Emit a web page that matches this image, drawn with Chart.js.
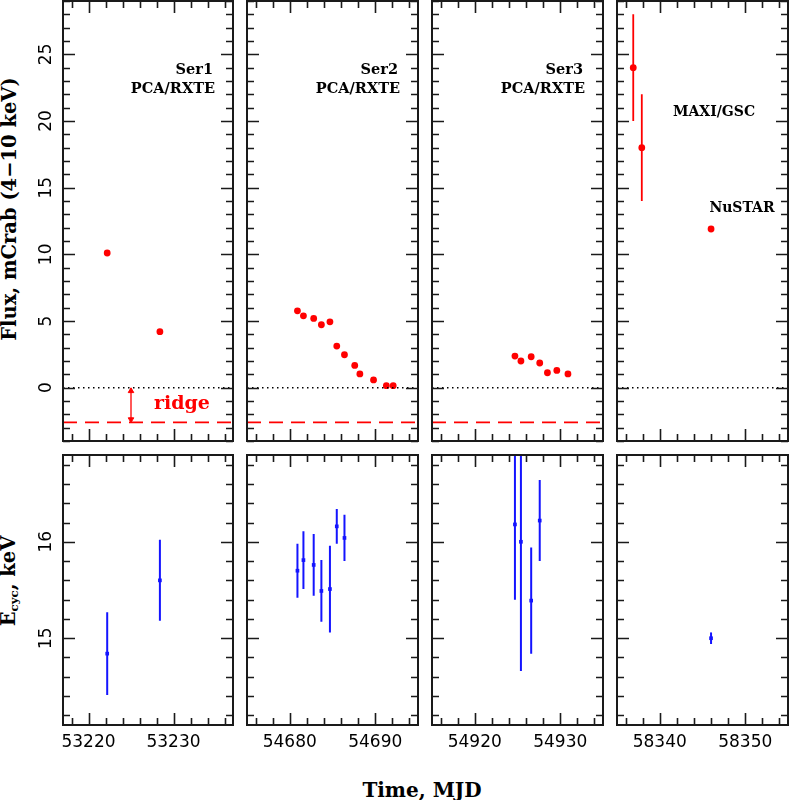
<!DOCTYPE html>
<html>
<head>
<meta charset="utf-8">
<script src="https://cdn.jsdelivr.net/npm/chart.js@4.4.1/dist/chart.umd.min.js"></script>
<style>
  html, body { margin: 0; padding: 0; background: #fff; }
  #wrap { position: relative; width: 789px; height: 800px; overflow: hidden; }
  #wrap canvas { position: absolute; left: 0; top: 0; }
  .title { position: absolute; font-family: "DejaVu Serif", serif; font-weight: bold; color: #000; white-space: nowrap; line-height: 1; }
  .rot { transform: translate(-50%, -50%) rotate(-90deg); }
  .mid { transform: translate(-50%, -50%); }
  .title sub { font-size: 60%; vertical-align: -0.25em; }
</style>
</head>
<body>
<div id="wrap">
  <div class="title rot" style="left:10px; top:209px; font-size:19.5px;">Flux, mCrab (4&#8722;10 keV)</div>
  <div class="title rot" style="left:10px; top:581px; font-size:19.5px;">E<sub>cyc</sub>, keV</div>
  <div class="title mid" style="left:422px; top:790px; font-size:20px;">Time, MJD</div>
</div>
<script>
// Time windows (MJD) of the four columns and the axis limits
const xRanges = [[53217, 53237], [54675, 54695], [54915, 54935], [58335, 58355]];
const fluxRange = [-4, 29];
const ecycRange = [14.1, 16.9];

// Tick labels
const xTickLabels = [[53220, 53230], [54680, 54690], [54920, 54930], [58340, 58350]];
const fluxTickLabels = [0, 5, 10, 15, 20, 25];
const ecycTickLabels = [15, 16];

// Ser1, PCA/RXTE
const ser1Mjd = [53222.2, 53228.4];
const ser1Flux = [10.1, 4.2];
const ser1Ecyc = [14.84, 15.60];
const ser1EcycErr = [0.43, 0.42];

// Ser2, PCA/RXTE
const ser2Mjd = [54680.9, 54681.6, 54682.8, 54683.7, 54684.7, 54685.5, 54686.4, 54687.6, 54688.2, 54689.8, 54691.3, 54692.1];
const ser2Flux = [5.76, 5.39, 5.19, 4.72, 4.94, 3.12, 2.47, 1.67, 1.03, 0.58, 0.15, 0.15];
const ser2EcycMjd = [54680.9, 54681.6, 54682.8, 54683.7, 54684.7, 54685.5, 54686.4];
const ser2Ecyc = [15.70, 15.81, 15.76, 15.49, 15.51, 16.16, 16.04];
const ser2EcycErr = [0.28, 0.30, 0.32, 0.32, 0.45, 0.18, 0.24];

// Ser3, PCA/RXTE
const ser3Mjd = [54924.7, 54925.4, 54926.6, 54927.6, 54928.5, 54929.6, 54930.9];
const ser3Flux = [2.37, 2.0, 2.32, 1.85, 1.12, 1.29, 1.03];
const ser3EcycMjd = [54924.7, 54925.4, 54926.6, 54927.6];
const ser3Ecyc = [16.18, 16.0, 15.39, 16.22];
const ser3EcycErr = [0.78, 1.34, 0.55, 0.42];

// MAXI/GSC and NuSTAR (2018)
const maxiMjd = [58336.9, 58337.9];
const maxiFlux = [24.0, 18.0];
const maxiFluxErr = [4.0, 4.0];
const nustarMjd = [58346.0];
const nustarFlux = [11.9];
const nustarEcyc = [15.0];
const nustarEcycErr = [0.06];

// Galactic ridge level and its arrow position
const ridgeFlux = -2.6;
const ridgeArrowMjd = 53225;

const RED = '#ff0000';
const BLUE = '#1414ff';

// panel frames in page pixels
const colEdges = [[63, 233], [247, 418], [432, 603], [617, 788]];
const rowEdges = [[1, 441], [455, 725]];
const W = 789, H = 800;

function pts(xs, ys) { return xs.map((x, i) => ({ x: x, y: ys[i] })); }
function errBars(xs, ys, es) {
  const out = [];
  xs.forEach((x, i) => {
    out.push({ x: x, y: ys[i] - es[i] }, { x: x, y: ys[i] + es[i] }, { x: x, y: null });
  });
  return out;
}
function steps(min, max, step) {
  const out = [];
  for (let k = Math.ceil(min / step - 1e-9); k * step <= max + 1e-9; k++) out.push(k * step);
  return out;
}
function isMajor(v, major) { return Math.abs(v / major - Math.round(v / major)) < 1e-6; }

const axesBox = {
  id: 'axesBox',
  afterDraw(chart, args, o) {
    const { ctx, chartArea: a } = chart;
    const xs = chart.scales.x, ys = chart.scales.y;
    ctx.save();
    ctx.strokeStyle = '#1a1a1a';
    ctx.lineWidth = 1.6;
    ctx.beginPath();
    steps(xs.min, xs.max, o.xMinor).forEach(v => {
      const px = Math.round(xs.getPixelForValue(v)) + 0.5;
      const len = isMajor(v, o.xMajor) ? 12 : 7;
      ctx.moveTo(px, a.bottom); ctx.lineTo(px, a.bottom - len);
      ctx.moveTo(px, a.top); ctx.lineTo(px, a.top + len);
    });
    steps(ys.min, ys.max, o.yMinor).forEach(v => {
      const py = Math.round(ys.getPixelForValue(v)) + 0.5;
      const len = isMajor(v, o.yMajor) ? 12 : 7;
      ctx.moveTo(a.left, py); ctx.lineTo(a.left + len, py);
      ctx.moveTo(a.right, py); ctx.lineTo(a.right - len, py);
    });
    ctx.stroke();
    ctx.lineWidth = 2;
    ctx.strokeRect(a.left, a.top, a.right - a.left, a.bottom - a.top);

    ctx.fillStyle = '#000';
    ctx.font = '17px "DejaVu Sans"';
    if (o.xLabels) {
      ctx.textAlign = 'center';
      ctx.textBaseline = 'middle';
      o.xLabels.forEach(v => ctx.fillText(String(v), xs.getPixelForValue(v), a.bottom + 18));
    }
    if (o.yLabels) {
      o.yLabels.forEach(v => {
        ctx.save();
        ctx.translate(a.left - 16.5, ys.getPixelForValue(v));
        ctx.rotate(-Math.PI / 2);
        ctx.textAlign = 'center';
        ctx.textBaseline = 'middle';
        ctx.fillText(String(v), 0, 0);
        ctx.restore();
      });
    }
    (o.notes || []).forEach(n => {
      ctx.font = 'bold ' + n.size + 'px "DejaVu Serif"';
      ctx.fillStyle = n.color || '#000';
      ctx.textAlign = n.align;
      ctx.textBaseline = 'alphabetic';
      const x = n.align === 'right' ? a.right - n.dx : a.left + n.dx;
      ctx.fillText(n.text, x, a.top + n.dy);
    });
    ctx.restore();
  }
};

function lineSet(data, color, width, dash) {
  return { type: 'line', data: data, borderColor: color, borderWidth: width, borderDash: dash || [],
           pointRadius: 0, fill: false, tension: 0, spanGaps: false };
}
function dotSet(data, color, style, r) {
  return { type: 'scatter', data: data, backgroundColor: color, borderColor: color, borderWidth: 0,
           pointStyle: style, pointRadius: r };
}

function makePanel(col, row, datasets, extra) {
  const c = document.createElement('canvas');
  c.width = W; c.height = H;
  document.getElementById('wrap').appendChild(c);
  const [l, r] = colEdges[col];
  const [t, b] = rowEdges[row];
  const yr = row === 0 ? fluxRange : ecycRange;
  new Chart(c, {
    type: 'scatter',
    data: { datasets: datasets },
    options: {
      responsive: false, animation: false, events: [],
      layout: { autoPadding: false, padding: { left: l, right: W - r, top: t, bottom: H - b } },
      plugins: {
        legend: { display: false }, tooltip: { enabled: false },
        axesBox: Object.assign({
          xMinor: 2, xMajor: 10,
          yMinor: row === 0 ? 1 : 0.2, yMajor: row === 0 ? 5 : 1,
          xLabels: row === 1 ? xTickLabels[col] : null,
          yLabels: col === 0 ? (row === 0 ? fluxTickLabels : ecycTickLabels) : null
        }, extra || {})
      },
      scales: {
        x: { type: 'linear', display: false, min: xRanges[col][0], max: xRanges[col][1] },
        y: { type: 'linear', display: false, min: yr[0], max: yr[1] }
      }
    },
    plugins: [axesBox]
  });
}

function zeroLine(col) {
  return lineSet([{ x: xRanges[col][0], y: 0 }, { x: xRanges[col][1], y: 0 }], '#000', 1.5, [1.5, 3.5]);
}
function ridgeLine(col) {
  return lineSet([{ x: xRanges[col][0], y: ridgeFlux }, { x: xRanges[col][1], y: ridgeFlux }], RED, 1.6, [14, 8]);
}
function serNotes(name) {
  return [
    { text: name, size: 14.5, align: 'right', dx: 20, dy: 73 },
    { text: 'PCA/RXTE', size: 14.5, align: 'right', dx: 18, dy: 92 }
  ];
}

// top row: flux
const arrow = {
  type: 'line',
  data: [{ x: ridgeArrowMjd, y: -0.25 }, { x: ridgeArrowMjd, y: ridgeFlux + 0.22 }],
  borderColor: RED, borderWidth: 1.3, fill: false,
  pointStyle: 'triangle', pointRadius: 3.2, pointRotation: [0, 180],
  pointBackgroundColor: RED, pointBorderColor: RED, pointBorderWidth: 1
};
makePanel(0, 0, [zeroLine(0), ridgeLine(0), arrow, dotSet(pts(ser1Mjd, ser1Flux), RED, 'circle', 3.4)],
  { notes: serNotes('Ser1').concat([{ text: 'ridge', size: 19, align: 'center', dx: 119, dy: 408, color: RED }]) });
makePanel(1, 0, [zeroLine(1), ridgeLine(1), dotSet(pts(ser2Mjd, ser2Flux), RED, 'circle', 3.4)],
  { notes: serNotes('Ser2') });
makePanel(2, 0, [zeroLine(2), ridgeLine(2), dotSet(pts(ser3Mjd, ser3Flux), RED, 'circle', 3.4)],
  { notes: serNotes('Ser3') });
makePanel(3, 0, [zeroLine(3),
  lineSet(errBars(maxiMjd, maxiFlux, maxiFluxErr), RED, 1.8),
  dotSet(pts(maxiMjd, maxiFlux), RED, 'circle', 3.4),
  dotSet(pts(nustarMjd, nustarFlux), RED, 'circle', 3.4)],
  { notes: [
    { text: 'MAXI/GSC', size: 14, align: 'center', dx: 97, dy: 115 },
    { text: 'NuSTAR', size: 14, align: 'center', dx: 125, dy: 211 }
  ] });

// bottom row: cyclotron energy
makePanel(0, 1, [lineSet(errBars(ser1Mjd, ser1Ecyc, ser1EcycErr), BLUE, 2), dotSet(pts(ser1Mjd, ser1Ecyc), BLUE, 'rect', 2.6)]);
makePanel(1, 1, [lineSet(errBars(ser2EcycMjd, ser2Ecyc, ser2EcycErr), BLUE, 2), dotSet(pts(ser2EcycMjd, ser2Ecyc), BLUE, 'rect', 2.6)]);
makePanel(2, 1, [lineSet(errBars(ser3EcycMjd, ser3Ecyc, ser3EcycErr), BLUE, 2), dotSet(pts(ser3EcycMjd, ser3Ecyc), BLUE, 'rect', 2.6)]);
makePanel(3, 1, [lineSet(errBars(nustarMjd, nustarEcyc, nustarEcycErr), BLUE, 2), dotSet(pts(nustarMjd, nustarEcyc), BLUE, 'rect', 2.6)]);
</script>
</body>
</html>
